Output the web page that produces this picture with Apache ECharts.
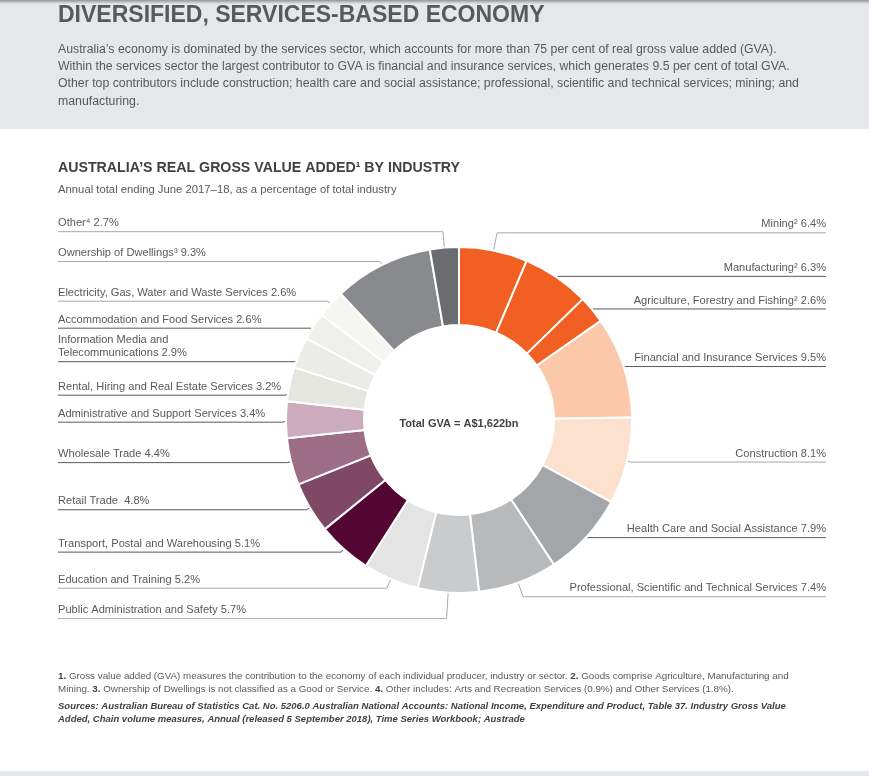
<!DOCTYPE html>
<html>
<head>
<meta charset="utf-8">
<script src="https://cdn.jsdelivr.net/npm/echarts@6/dist/echarts.min.js"></script>
<style>
  html, body { margin: 0; padding: 0; background: #fff; }
  #chart { width: 869px; height: 776px; }
</style>
</head>
<body>
<div id="chart"></div>
<script type="text/javascript">
    // industry shares of real GVA, 2017-18, clockwise from 12 o'clock
    var industries = [
        'Mining\u00b2', 'Manufacturing\u00b2', 'Agriculture, Forestry and Fishing\u00b2',
        'Financial and Insurance Services', 'Construction', 'Health Care and Social Assistance',
        'Professional, Scientific and Technical Services', 'Public Administration and Safety',
        'Education and Training', 'Transport, Postal and Warehousing', 'Retail Trade ',
        'Wholesale Trade', 'Administrative and Support Services',
        'Rental, Hiring and Real Estate Services', 'Information Media and\nTelecommunications',
        'Accommodation and Food Services', 'Electricity, Gas, Water and Waste Services',
        'Ownership of Dwellings\u00b3', 'Other\u2074'
    ];
    var shares = [6.4, 6.3, 2.6, 9.5, 8.1, 7.9, 7.4, 5.7, 5.2, 5.1, 4.8, 4.4, 3.4, 3.2, 2.9, 2.6, 2.6, 9.3, 2.7];
    var totalGVA = 'A$1,622bn';

    // styling, one entry per slice
    var sliceColors = ['#f15f22', '#f15f22', '#f15f22', '#fbc9a9', '#fde1cf', '#a3a6a8', '#b8b9bb',
        '#cacbcd', '#e4e4e4', '#540633', '#7f4966', '#9d6d86', '#ccacbc', '#e6e6e1', '#ebebe7',
        '#efefeb', '#f5f5f2', '#898a8e', '#6b6c70'];
    var light = '#a7a9ac', dark = '#58595b';
    var leaderColors = [light, dark, dark, dark, light, dark, light, light, light, dark, dark,
        dark, dark, dark, dark, dark, light, light, light];
    var leaderLengths = [18, 1, 1, 1, 4, 1, 15, 26, 10, 4, 4, 4, 4, 4, 4, 4, 4, 4, 16];

    var FONT = '"Liberation Sans", Arial, Helvetica, sans-serif';
    var W = 869, H = 776;
    var LEFT = 58, RIGHT = 43, TOP = 212, BOTTOM = 126;
    var CX = 459, CY = 420, R_IN = 95, R_OUT = 173, R_LINE = 164;

    var pieData = industries.map(function (name, i) {
        return {
            name: name,
            value: shares[i],
            itemStyle: {color: sliceColors[i]},
            labelLine: {length: leaderLengths[i], lineStyle: {color: leaderColors[i]}}
        };
    });

    var chart = echarts.init(document.getElementById('chart'), null, {renderer: 'canvas'});

    var option = {
        animation: false,
        backgroundColor: '#fff',
        graphic: [
            {type: 'rect', shape: {x: 0, y: 0, width: W, height: 129}, style: {fill: '#e6e7e8'}, silent: true},
            {
                type: 'rect', shape: {x: 0, y: 0, width: W, height: 4}, silent: true,
                style: {
                    fill: new echarts.graphic.LinearGradient(0, 0, 0, 1, [
                        {offset: 0, color: '#939598'}, {offset: 1, color: '#e6e7e8'}
                    ])
                }
            },
            {type: 'rect', shape: {x: 0, y: 771, width: W, height: 5}, style: {fill: '#e6e7e8'}, silent: true},
            {
                type: 'text', x: 58, y: 16, silent: true,
                style: {
                    text: 'DIVERSIFIED, SERVICES-BASED ECONOMY', fill: '#58595b',
                    font: 'bold 23px ' + FONT, verticalAlign: 'middle'
                }
            },
            {
                type: 'text', x: 58, y: 40.5, silent: true,
                style: {
                    text: 'Australia\u2019s economy is dominated by the services sector, which accounts for more than 75 per cent of real gross value added (GVA).\n' +
                        'Within the services sector the largest contributor to GVA is financial and insurance services, which generates 9.5 per cent of total GVA.\n' +
                        'Other top contributors include construction; health care and social assistance; professional, scientific and technical services; mining; and\n' +
                        'manufacturing.',
                    fill: '#58595b', font: '12.3px ' + FONT, lineHeight: 17.4, verticalAlign: 'top'
                }
            },
            {
                type: 'text', x: 58, y: 168, silent: true,
                style: {
                    text: 'AUSTRALIA\u2019S REAL GROSS VALUE ADDED\u00b9 BY INDUSTRY', fill: '#414042',
                    font: 'bold 14.2px ' + FONT, verticalAlign: 'middle'
                }
            },
            {
                type: 'text', x: 58, y: 190, silent: true,
                style: {
                    text: 'Annual total ending June 2017\u201318, as a percentage of total industry', fill: '#58595b',
                    font: '11.3px ' + FONT, verticalAlign: 'middle'
                }
            },
            {
                type: 'text', x: CX, y: 424, silent: true,
                style: {
                    text: 'Total GVA = ' + totalGVA, fill: '#414042',
                    font: 'bold 11px ' + FONT, align: 'center', verticalAlign: 'middle'
                }
            },
            {
                type: 'text', x: 58, y: 670, silent: true,
                style: {
                    text: '{b|1.} Gross value added (GVA) measures the contribution to the economy of each individual producer, industry or sector. {b|2.} Goods comprise Agriculture, Manufacturing and\n' +
                        'Mining. {b|3.} Ownership of Dwellings is not classified as a Good or Service. {b|4.} Other includes: Arts and Recreation Services (0.9%) and Other Services (1.8%).',
                    fill: '#58595b', font: '9.8px ' + FONT, lineHeight: 13, verticalAlign: 'top',
                    rich: {b: {fontWeight: 'bold', fontSize: 9.8, fontFamily: FONT, fill: '#414042', lineHeight: 13}}
                }
            },
            {
                type: 'text', x: 58, y: 699.5, silent: true,
                style: {
                    text: 'Sources: Australian Bureau of Statistics Cat. No. 5206.0 Australian National Accounts: National Income, Expenditure and Product, Table 37. Industry Gross Value\n' +
                        'Added, Chain volume measures, Annual (released 5 September 2018), Time Series Workbook; Austrade',
                    fill: '#414042', font: 'italic bold 9.5px ' + FONT, lineHeight: 13, verticalAlign: 'top'
                }
            }
        ],
        series: [
            {
                name: 'Real GVA',
                type: 'pie',
                left: LEFT, right: RIGHT, top: TOP, bottom: BOTTOM,
                center: [((CX - LEFT) / (W - LEFT - RIGHT) * 100) + '%', ((CY - TOP) / (H - TOP - BOTTOM) * 100) + '%'],
                radius: [R_IN, R_OUT],
                startAngle: 90,
                clockwise: true,
                avoidLabelOverlap: true,
                itemStyle: {borderColor: '#fff', borderWidth: 2},
                emphasis: {disabled: true},
                label: {
                    show: true,
                    position: 'outer',
                    alignTo: 'edge',
                    edgeDistance: 0,
                    distanceToLabelLine: 0,
                    overflow: 'none',
                    minMargin: 14,
                    color: '#58595b',
                    fontFamily: FONT,
                    fontSize: 11.1,
                    lineHeight: 13,
                    formatter: function (p) {
                        return p.name + ' ' + p.value.toFixed(1) + '%';
                    }
                },
                labelLine: {show: true, length: 4, length2: 0, lineStyle: {width: 1}},
                labelLayout: function (params) {
                    var pts = params.labelLinePoints;
                    if (!pts) {
                        return {};
                    }
                    var isLeft = params.labelRect.x + params.labelRect.width / 2 < CX;
                    var dx = pts[0][0] - CX, dy = pts[0][1] - CY;
                    var d = Math.sqrt(dx * dx + dy * dy) || 1;
                    var y = pts[2][1];
                    var start = [CX + dx / d * R_LINE, CY + dy / d * R_LINE];
                    var end = isLeft ? LEFT : W - RIGHT;
                    return {
                        y: y - 2,
                        verticalAlign: 'bottom',
                        labelLinePoints: [start, [pts[1][0], y], [end, y]]
                    };
                },
                data: pieData
            }
        ]
    };
    chart.setOption(option);
</script>
</body>
</html>
